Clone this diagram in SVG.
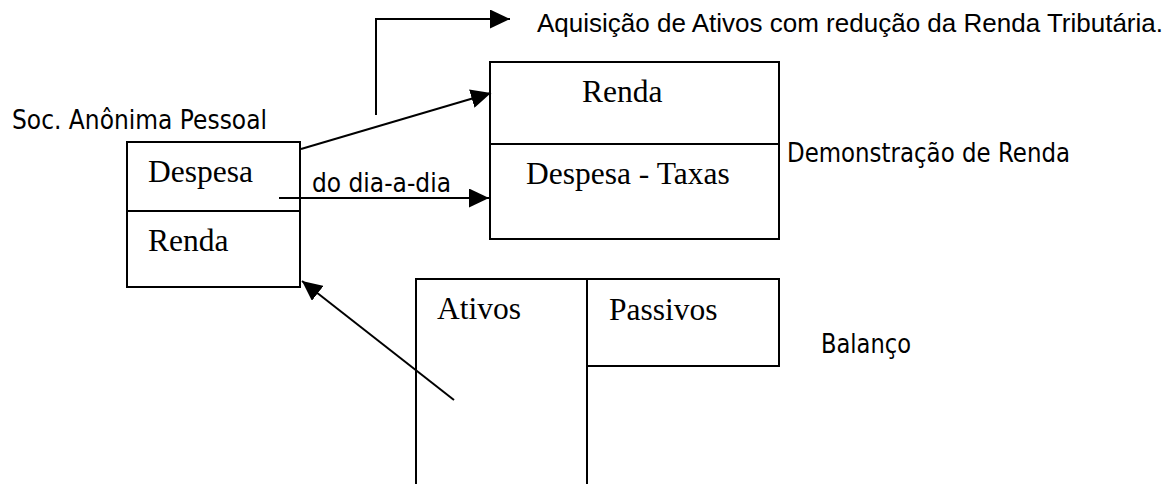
<svg xmlns="http://www.w3.org/2000/svg" width="1173" height="484" viewBox="0 0 1173 484">
<style>
.ln{fill:none;stroke:#000;stroke-width:2}
.cn{fill:none;stroke:#000;stroke-width:2}
.sans{font-family:"DejaVu Sans","Liberation Sans",sans-serif;font-size:26.4px;fill:#000}
.sans2{font-family:"Liberation Sans",Arial,sans-serif;font-size:26px;fill:#000}
.serif{font-family:"Liberation Serif","Times New Roman",serif;font-size:31.5px;fill:#000}
</style>
<defs>
<marker id="ah" markerUnits="userSpaceOnUse" viewBox="0 0 20 19" refX="20" refY="9.5" markerWidth="20" markerHeight="19" orient="auto">
<path d="M0,0 L20,9.5 L0,19 Z" fill="#000"/>
</marker>
</defs>
<rect width="1173" height="484" fill="#fff"/>

<g id="soc-anonima">
<text class="sans" x="12" y="129" textLength="255" lengthAdjust="spacingAndGlyphs">Soc. Anônima Pessoal</text>
<rect class="ln" x="127" y="142" width="173" height="145"/>
<line class="ln" x1="127" y1="211" x2="300" y2="211"/>
<text class="serif" x="148" y="182">Despesa</text>
<text class="serif" x="148" y="251">Renda</text>
</g>

<g id="demonstracao">
<rect class="ln" x="490" y="62" width="289" height="177"/>
<line class="ln" x1="490" y1="144" x2="779" y2="144"/>
<text class="serif" x="582" y="102">Renda</text>
<text class="serif" x="526" y="184">Despesa - Taxas</text>
<text class="sans" x="787" y="162" textLength="283" lengthAdjust="spacingAndGlyphs">Demonstração de Renda</text>
</g>

<g id="balanco">
<path class="ln" d="M416,484 V279 H779 V366 H587"/>
<line class="ln" x1="587" y1="279" x2="587" y2="484"/>
<text class="serif" x="437" y="319">Ativos</text>
<text class="serif" x="609" y="320">Passivos</text>
<text class="sans" x="821" y="353" textLength="90" lengthAdjust="spacingAndGlyphs">Balanço</text>
</g>

<g id="aquisicao">
<text class="sans2" x="537" y="32" textLength="626" lengthAdjust="spacingAndGlyphs">Aquisição de Ativos com redução da Renda Tributária.</text>
</g>

<g id="connectors">
<path class="cn" d="M376,115 V19 H510" marker-end="url(#ah)"/>
<line class="cn" x1="301" y1="149" x2="491" y2="93" marker-end="url(#ah)"/>
<line class="cn" x1="279" y1="198" x2="489" y2="198" marker-end="url(#ah)"/>
<text class="sans" x="312" y="192" textLength="139" lengthAdjust="spacingAndGlyphs">do dia-a-dia</text>
<line class="cn" x1="454" y1="400" x2="302" y2="281" marker-end="url(#ah)"/>
</g>
</svg>
